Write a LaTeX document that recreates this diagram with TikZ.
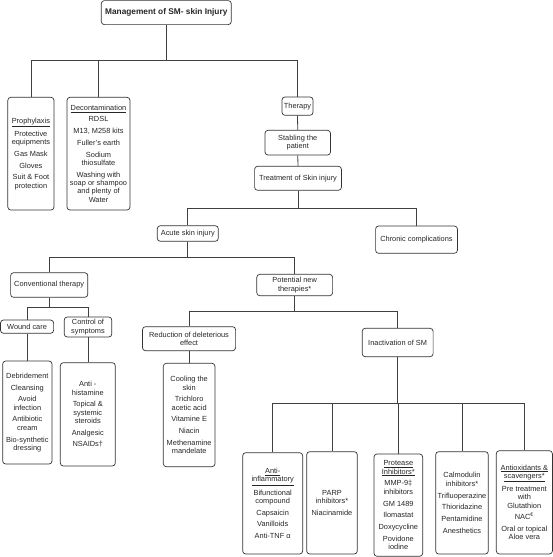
\documentclass[tikz,border=0pt]{standalone}
\usepackage{fontspec}
\setmainfont{Liberation Sans}
\begin{document}
\begin{tikzpicture}[x=1pt,y=-1pt,
  box/.style={draw=black!80, line width=0.7pt, rounded corners=3pt, inner sep=0pt, align=center,
    font=\fontsize{7.4}{8.4}\selectfont, text=black!85},
  link/.style={draw=black!75, line width=0.8pt}]
\useasboundingbox (0,0) rectangle (553,557);
\newcommand\bx[6]{\node[box, minimum width={(#4-#2)*1pt}, minimum height={(#5-#3)*1pt}] (#1) at ({(#2+#4)/2},{(#3+#5)/2}) {#6};}
\def\g{\\[3.3pt]}
% nodes
\node[box, font=\fontsize{8.3}{9}\selectfont\bfseries, minimum width=130pt, minimum height=24pt] (title) at (166.3,12.6) {Management of SM- skin Injury};
\bx{proph}{7.8}{97.3}{54}{210}{\underline{Prophylaxis}\g Protective\\ equipments\g Gas Mask\g Gloves\g Suit \& Foot\\ protection}
\bx{decon}{67}{97.3}{130}{210}{\underline{Decontamination}\g RDSL\g M13, M258 kits\g Fuller's earth\g Sodium\\ thiosulfate\g Washing with\\ soap or shampoo\\ and plenty of\\ Water}
\bx{therapy}{282}{97}{313}{115.3}{Therapy}
\bx{stab}{265}{130.3}{330.5}{155}{Stabling the\\ patient}
\bx{treat}{254.6}{166.3}{341.4}{190.3}{Treatment of Skin injury}
\bx{acute}{157.3}{225.7}{218.3}{241.3}{Acute skin injury}
\bx{chronic}{375.6}{226}{457.4}{253.3}{Chronic complications}
\bx{conv}{10.6}{272.7}{87.8}{297.3}{Conventional therapy}
\bx{potential}{256.8}{274.3}{332.6}{295.7}{Potential new\\ therapies*}
\bx{wound}{0.5}{320}{53.6}{333.3}{Wound care}
\bx{control}{64.2}{317}{111.8}{337}{Control of\\ symptoms}
\bx{reduction}{142.5}{326.7}{235.6}{350.7}{Reduction of deleterious\\ effect}
\bx{inact}{362.2}{328.3}{433.1}{356.7}{Inactivation of SM}
\bx{debr}{2.7}{361}{52}{464}{Debridement\g Cleansing\g Avoid\\ infection\g Antibiotic\\ cream\g Bio-synthetic\\ dressing}
\bx{ctrlbox}{60.3}{362.7}{115.3}{466}{Anti -\\ histamine\g Topical \&\\ systemic\\ steroids\g Analgesic\g NSAIDs†}
\bx{cooling}{163.3}{363.3}{215}{466.7}{Cooling the\\ skin\g Trichloro\\ acetic acid\g Vitamine E\g Niacin\g Methenamine\\ mandelate}
\bx{antiinf}{242.7}{452.7}{302.7}{554}{\underline{Anti-}\\ \underline{inflammatory}\g Bifunctional\\ compound\g Capsaicin\g Vanilloids\g Anti-TNF α}
\bx{parp}{306.7}{451.7}{357.3}{554}{PARP\\ inhibitors*\g Niacinamide}
\bx{protease}{374}{454}{422.7}{556.3}{\underline{Protease}\\ \underline{Inhibitors*}\g MMP-9‡\\ inhibitors\g GM 1489\g Ilomastat\g Doxycycline\g Povidone\\ iodine}
\bx{calm}{435.7}{451.7}{488.3}{554}{Calmodulin\\ inhibitors*\g Trifluoperazine\g Thioridazine\g Pentamidine\g Anesthetics}
\bx{antiox}{496.3}{450.7}{552.4}{554}{\underline{Antioxidants \&}\\ \underline{scavengers*}\g Pre treatment\\ with\\ Glutathion\g NAC\textsuperscript{€}\g Oral or topical\\ Aloe vera}
% connectors
\foreach \c in {proph,decon,therapy}
  \draw[link] (title.south) -- (title.south |- 0,60.3) -| (\c.north);
\draw[link] (therapy.south) -- (stab.north);
\draw[link] (stab.south) -- (treat.north);
\foreach \c in {acute,chronic}
  \draw[link] (treat.south) -- (treat.south |- 0,208.3) -| (\c.north);
\foreach \c in {conv,potential}
  \draw[link] (acute.south) -- (acute.south |- 0,257.7) -| (\c.north);
\foreach \c in {wound,control}
  \draw[link] (conv.south) -- (conv.south |- 0,307.3) -| (\c.north);
\foreach \c in {reduction,inact}
  \draw[link] (potential.south) -- (potential.south |- 0,311.3) -| (\c.north);
\draw[link] (wound.south) -- (wound.south |- debr.north);
\draw[link] (control.south) -- (control.south |- ctrlbox.north);
\draw[link] (reduction.south) -- (reduction.south |- cooling.north);
\foreach \c in {antiinf,parp,protease,calm,antiox}
  \draw[link] (inact.south) -- (inact.south |- 0,403.3) -| (\c.north);
\end{tikzpicture}
\end{document}
